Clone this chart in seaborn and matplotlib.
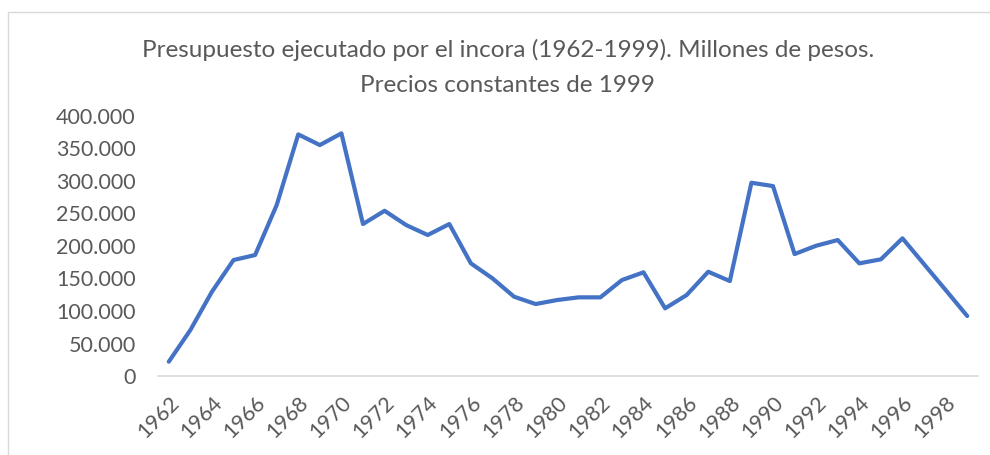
import pandas as pd
import seaborn as sns
import matplotlib.pyplot as plt
from matplotlib.patches import Rectangle
from matplotlib.ticker import FuncFormatter

# budget executed by INCORA, millions of pesos (constant 1999 prices)
years = list(range(1962, 2000))
budget = [22000, 70700, 129700, 178400, 186100, 263000, 371700, 355300, 373300, 233800,
          254200, 232200, 216900, 233800, 173300, 150200, 122000, 110700, 116900, 121000,
          121000, 147600, 159500, 104100, 124600, 160400, 146100, 297300, 292200, 187600,
          200400, 209200, 173300, 179500, 211800, 172000, 132300, 92300]
tick_years = list(range(1962, 2000, 2))

df = pd.DataFrame({"year": years, "budget": budget})

sns.set_style("white")
plt.rcParams['font.family'] = ['Lato', 'DejaVu Sans']
grey = "#595959"

fig = plt.figure(figsize=(9.9, 4.55), dpi=100)
ax = fig.add_axes([158/990, 1 - 376/455, (978 - 158)/990, (376 - 116)/455])

sns.lineplot(x="year", y="budget", data=df, ax=ax, color="#4472C4",
             linewidth=3.0, solid_capstyle="round", solid_joinstyle="round")

ax.set_xlim(1961.5, 1999.5)
ax.set_ylim(0, 400000)
ax.set_yticks(range(0, 400001, 50000))
ax.yaxis.set_major_formatter(FuncFormatter(lambda v, p: f"{int(v):,}".replace(",", ".")))
ax.set_xticks(tick_years)
ax.set_xticklabels([str(y) for y in tick_years], rotation=45, ha="right",
                   rotation_mode="anchor")
ax.tick_params(axis="both", length=0, labelsize=15.5, labelcolor=grey)
ax.tick_params(axis="x", pad=12)
ax.tick_params(axis="y", pad=16)
ax.set_xlabel("")
ax.set_ylabel("")
for s in ["top", "right", "left"]:
    ax.spines[s].set_visible(False)
ax.spines["bottom"].set_color("#D9D9D9")
ax.spines["bottom"].set_linewidth(1.2)

fig.text(0.513, 1 - 50/455, "Presupuesto ejecutado por el incora (1962-1999). Millones de pesos.",
         ha="center", va="center", fontsize=17.5, color=grey)
fig.text(0.513, 1 - 85/455, "Precios constantes de 1999",
         ha="center", va="center", fontsize=17.5, color=grey)

fig.patches.append(Rectangle((8/990, -0.05), 1.0, 1 - 12/455 + 0.05,
                             transform=fig.transFigure, fill=False,
                             edgecolor="#D9D9D9", linewidth=1.0))

plt.savefig("out.png", dpi=100)
